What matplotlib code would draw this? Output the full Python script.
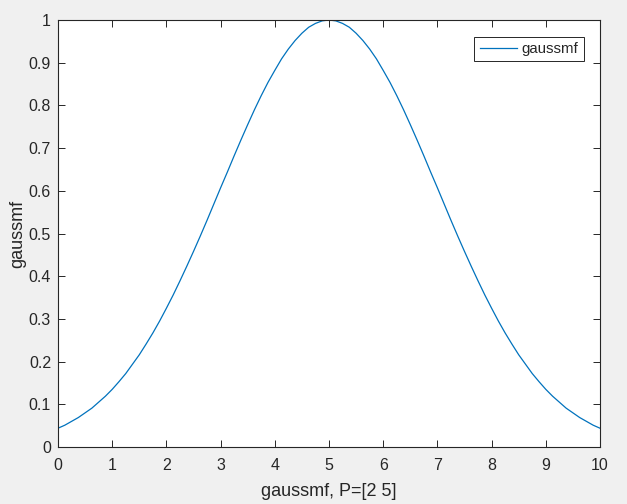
import numpy as np
import matplotlib
matplotlib.use("Agg")
import matplotlib.pyplot as plt

# valores (curva gaussmf, passo 0.125, metade esquerda)
x = np.arange(0, 10.001, 0.125)
y_half = [0.044, 0.051, 0.060, 0.069, 0.080, 0.091, 0.105, 0.119,
          0.135, 0.153, 0.172, 0.194, 0.216, 0.241, 0.267, 0.295,
          0.325, 0.356, 0.389, 0.423, 0.458, 0.494, 0.531, 0.569,
          0.607, 0.644, 0.682, 0.719, 0.755, 0.790, 0.823, 0.854,
          0.882, 0.909, 0.932, 0.952, 0.969, 0.983, 0.992, 0.998,
          1.000]
y = y_half + y_half[-2::-1]

xticks = list(range(0, 11))
yticks = [round(0.1 * i, 1) for i in range(11)]
ytick_labels = ['0', '0.1', '0.2', '0.3', '0.4', '0.5', '0.6', '0.7', '0.8', '0.9', '1']

plt.rcParams['font.family'] = ['Liberation Sans', 'DejaVu Sans']
dark = '#262626'

fig = plt.figure(figsize=(6.27, 5.04), dpi=100, facecolor='#f0f0f0')
ax = fig.add_axes([58 / 627, 1 - 447 / 504, 542 / 627, 427 / 504])

ax.plot(x, y, color='#0072BD', linewidth=0.9, label='gaussmf')
ax.set_xlim(0, 10)
ax.set_ylim(0, 1)
ax.set_xticks(xticks)
ax.set_yticks(yticks)
ax.set_yticklabels(ytick_labels)

ax.tick_params(direction='in', length=5, width=0.7, colors=dark,
               labelsize=11.5, top=True, right=True, labeltop=False, labelright=False)
ax.tick_params(axis='x', pad=8)
ax.tick_params(axis='y', pad=5)
for s in ax.spines.values():
    s.set_color(dark)
    s.set_linewidth(0.8)

ax.set_xlabel('gaussmf, P=[2 5]', fontsize=13, color=dark, labelpad=7)
ax.set_ylabel('gaussmf', fontsize=13, color=dark, labelpad=2)

leg = ax.legend(loc='upper right', bbox_to_anchor=(0.97, 0.961), fontsize=10.8,
                fancybox=False, framealpha=1, handlelength=2.5, handletextpad=0.3,
                borderpad=0.35, borderaxespad=0)
leg.get_frame().set_edgecolor(dark)
leg.get_frame().set_linewidth(0.7)
for t in leg.get_texts():
    t.set_color(dark)

fig.savefig('out.png', dpi=100, facecolor=fig.get_facecolor())
